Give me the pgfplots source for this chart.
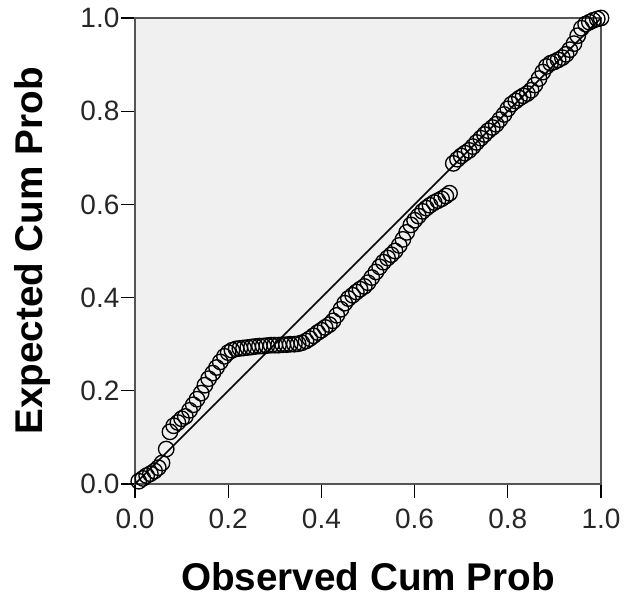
\documentclass[border=0pt]{standalone}
\usepackage{fontspec}
\setmainfont{Liberation Sans}
\usepackage{pgfplots}
\pgfplotsset{compat=1.18}
\definecolor{plotbg}{RGB}{240,240,240}
\definecolor{framegray}{RGB}{85,85,85}

\begin{document}
\begin{tikzpicture}
\begin{axis}[
  name=ax,
  scale only axis,
  width=349.5pt, height=349.5pt,
  xmin=0, xmax=1, ymin=0, ymax=1,
  axis background/.style={fill=plotbg},
  axis line style={draw=framegray, line width=1.6pt},
  xtick={0,0.2,0.4,0.6,0.8,1}, ytick={0,0.2,0.4,0.6,0.8,1},
  xticklabels={0.0,0.2,0.4,0.6,0.8,1.0},
  yticklabels={0.0,0.2,0.4,0.6,0.8,1.0},
  xtick pos=bottom, ytick pos=left,
  tick align=outside,
  major tick length=10.5pt,
  tick style={black, line width=1pt},
  /pgf/number format/assume math mode=true,
  tick label style={font=\fontsize{21}{21}\selectfont, text=black!85},
  xticklabel style={inner ysep=1pt, yshift=-7pt},
  yticklabel style={inner xsep=1pt},
  xlabel={Observed Cum Prob},
  ylabel={Expected Cum Prob},
  label style={font=\fontsize{29}{29}\selectfont\bfseries},
  xlabel style={at={(axis description cs:0.5,0)}, anchor=base, yshift=-79.5pt},
  ylabel style={at={(axis description cs:0,0.5)}, anchor=base, yshift=69pt},
  clip=false
]
\addplot[black, line width=1.3pt] coordinates {(0,0) (1,1)};
\addplot[only marks, mark=o, mark size=5.8pt, mark options={line width=1pt, draw=black}] coordinates {
  (0.008,0.006) (0.017,0.012) (0.025,0.018) (0.033,0.022) (0.042,0.028)
  (0.050,0.035) (0.058,0.045) (0.067,0.075) (0.075,0.112) (0.083,0.125)
  (0.092,0.132) (0.100,0.140) (0.108,0.145) (0.117,0.158) (0.125,0.170)
  (0.133,0.182) (0.142,0.195) (0.150,0.212) (0.158,0.226) (0.167,0.238)
  (0.175,0.250) (0.183,0.262) (0.192,0.274) (0.200,0.282) (0.208,0.287)
  (0.217,0.290) (0.225,0.291) (0.233,0.292) (0.242,0.293) (0.250,0.294)
  (0.258,0.295) (0.267,0.296) (0.275,0.296) (0.283,0.297) (0.292,0.298)
  (0.300,0.298) (0.308,0.298) (0.317,0.299) (0.325,0.299) (0.333,0.300)
  (0.342,0.300) (0.350,0.301) (0.358,0.303) (0.367,0.307) (0.375,0.312)
  (0.383,0.318) (0.392,0.325) (0.400,0.330) (0.408,0.336) (0.417,0.342)
  (0.425,0.350) (0.433,0.362) (0.442,0.375) (0.450,0.388) (0.458,0.398)
  (0.467,0.405) (0.475,0.412) (0.483,0.418) (0.492,0.424) (0.500,0.432)
  (0.508,0.443) (0.517,0.455) (0.525,0.466) (0.533,0.476) (0.542,0.485)
  (0.550,0.492) (0.558,0.500) (0.567,0.512) (0.575,0.525) (0.583,0.540)
  (0.592,0.556) (0.600,0.566) (0.608,0.575) (0.617,0.585) (0.625,0.592)
  (0.633,0.598) (0.642,0.604) (0.650,0.608) (0.658,0.612) (0.667,0.618)
  (0.675,0.624) (0.683,0.688) (0.692,0.697) (0.700,0.704) (0.708,0.710)
  (0.717,0.716) (0.725,0.724) (0.733,0.733) (0.742,0.742) (0.750,0.750)
  (0.758,0.758) (0.767,0.765) (0.775,0.772) (0.783,0.782) (0.792,0.793)
  (0.800,0.805) (0.808,0.815) (0.817,0.822) (0.825,0.828) (0.833,0.833)
  (0.842,0.838) (0.850,0.845) (0.858,0.856) (0.867,0.870) (0.875,0.884)
  (0.883,0.896) (0.892,0.903) (0.900,0.906) (0.908,0.910) (0.917,0.915)
  (0.925,0.922) (0.933,0.932) (0.942,0.945) (0.950,0.962) (0.958,0.978)
  (0.967,0.987) (0.975,0.991) (0.983,0.995) (0.992,0.998) (1.000,1.000)
};
\end{axis}
\pgfresetboundingbox
\path[use as bounding box] ([xshift=-101.25pt,yshift=-87pt]ax.south west)
  rectangle ([xshift=19.5pt,yshift=13.5pt]ax.north east);
\end{tikzpicture}
\end{document}
